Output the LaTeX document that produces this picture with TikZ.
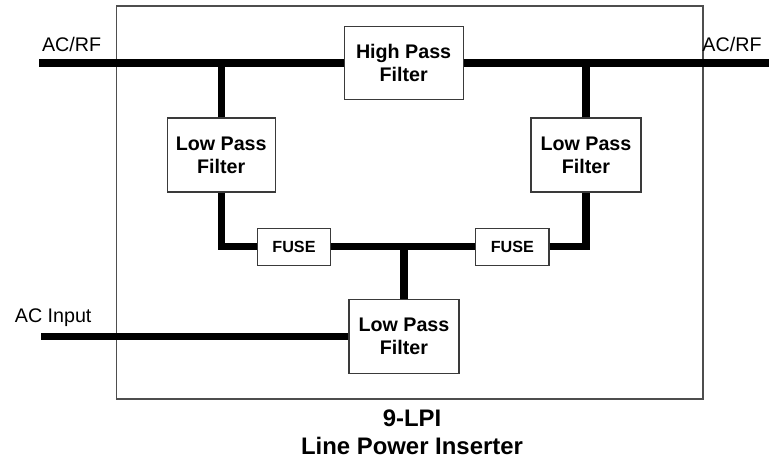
\documentclass[tikz,border=0pt]{standalone}
\usepackage{fontspec}
\setmainfont{Liberation Sans}
\usetikzlibrary{positioning,calc}
\definecolor{cEdge}{HTML}{3A3A3A}
\tikzset{
  fbox/.style={draw=cEdge, line width=0.8pt, fill=white, align=center, inner sep=0pt,
    font=\fontsize{14}{16.5}\selectfont\bfseries},
  filt/.style={fbox, minimum width=2.75cm, minimum height=1.85cm},
  fuse/.style={fbox, minimum width=1.84cm, minimum height=0.93cm,
    font=\fontsize{11.5}{13}\selectfont\bfseries},
  frame/.style={draw=cEdge!90, line width=0.8pt, inner sep=0pt},
  wire/.style={line width=5pt, draw=black},
  tag/.style={font=\fontsize{14}{16}\selectfont, inner sep=0pt},
}

\begin{document}
\begin{tikzpicture}
    \useasboundingbox (0,0) rectangle (19.225,-11.525);
    % --- housing ---
    \node[frame, minimum width=14.665cm, minimum height=9.825cm] (lpi) at (10.2425,-5.0625) {};
    % --- filters ---
    \node[filt, minimum width=2.975cm, minimum height=1.83cm] (hpf) at (10.09,-1.575) {High Pass\\Filter};
    \node[filt, minimum width=2.7cm] (lpfL) at (5.53,-3.875) {Low Pass\\Filter};
    \node[filt] (lpfR) at (14.65,-3.875) {Low Pass\\Filter};
    \node[filt] (lpfB) at (10.1,-8.41) {Low Pass\\Filter};
    \node[fuse] (fuseL) at (7.35,-6.17) {FUSE};
    \node[fuse, minimum width=1.83cm] (fuseR) at (12.81,-6.17) {FUSE};
    % --- ports ---
    \coordinate (rfL) at (0.975,-1.575);
    \coordinate (rfR) at (19.225,-1.575);
    \coordinate (acin) at (1.025,-8.41);
    \node[tag] (rfLtxt) at (1.79,-1.12) {AC/RF};
    \node[tag] (rfRtxt) at (18.3,-1.12) {AC/RF};
    \node[tag] (acintxt) at (1.33,-7.93) {AC Input};
    % --- wiring ---
    \draw[wire] (rfL) -- (hpf.west);
    \draw[wire] (hpf.east) -- (rfR);
    \draw[wire] (lpfL.north) -- (lpfL.north |- rfL);
    \draw[wire] (lpfR.north) -- (lpfR.north |- rfR);
    \draw[wire] (lpfL.south) |- (fuseL.west);
    \draw[wire] (fuseL.east) -- (fuseR.west);
    \draw[wire] (fuseR.east) -| (lpfR.south);
    \draw[wire] (lpfB.north) -- (lpfB.north |- fuseL.east);
    \draw[wire] (acin) -- (lpfB.west);
    % caption
    \node[align=center, font=\fontsize{17}{20}\selectfont\bfseries, inner sep=0pt]
      (cap) at (10.3,-10.8) {9-LPI\\Line Power Inserter};
  \end{tikzpicture}
\end{document}
